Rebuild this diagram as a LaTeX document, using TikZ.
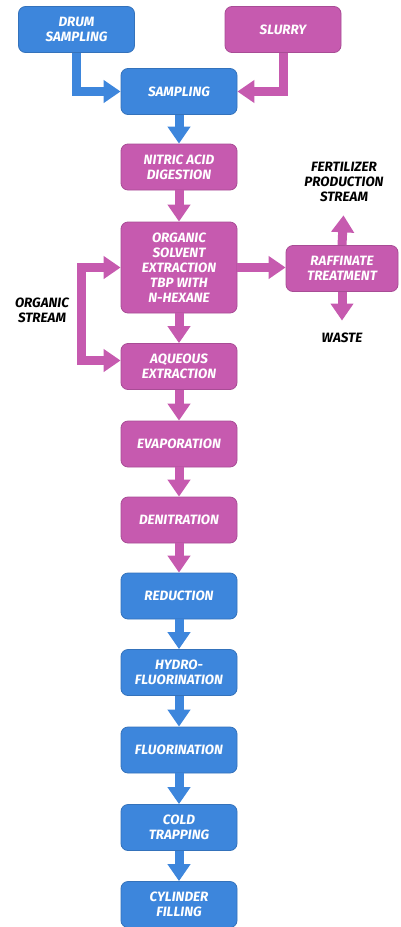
\documentclass[tikz,border=0pt]{standalone}
\usepackage{fontspec}
\setmainfont{Fira Sans}
\usetikzlibrary{arrows.meta}
\definecolor{procblue}{HTML}{3D86DC}
\definecolor{procpink}{HTML}{C65AAF}

\begin{document}
\begin{tikzpicture}[x=1pt,y=-1pt,
  box/.style={rectangle,rounded corners=7pt,draw=#1!85!black,fill=#1,line width=0.8pt,
    minimum width=116pt,minimum height=46pt,inner sep=2pt,align=center,text=white,
    font=\fontsize{13.5}{15}\selectfont\bfseries\itshape},
  flow/.style={draw=#1,line width=9pt,line join=miter,-{Triangle[width=22pt,length=17pt]}},
  twoway/.style={draw=#1,line width=9pt,line join=miter,
    {Triangle[width=22pt,length=17pt]}-{Triangle[width=22pt,length=17pt]}},
  sidetext/.style={align=center,text=black,font=\fontsize{13.5}{15}\selectfont\bfseries\itshape}
]
  \useasboundingbox (0,0) rectangle (400,927);
  % feed boxes
  \node[box=procblue] (drum) at (76.5,29.5) {DRUM\\SAMPLING};
  \node[box=procpink] (slurry) at (283,29.5) {SLURRY};
  % main column
  \node[box=procblue] (samp)   at (179,91.5)  {SAMPLING};
  \node[box=procpink] (nitric) at (179,167)   {NITRIC ACID\\DIGESTION};
  \node[box=procpink,minimum height=91pt] (org) at (179,267.5) {ORGANIC\\SOLVENT\\EXTRACTION\\TBP WITH\\N-HEXANE};
  \node[box=procpink] (aq)     at (179,366.5) {AQUEOUS\\EXTRACTION};
  \node[box=procpink] (evap)   at (179,444)   {EVAPORATION};
  \node[box=procpink] (denit)  at (179,520)   {DENITRATION};
  \node[box=procblue] (red)    at (179,596)   {REDUCTION};
  \node[box=procblue] (hydro)  at (179,672.5) {HYDRO-\\FLUORINATION};
  \node[box=procblue] (fluor)  at (179,750)   {FLUORINATION};
  \node[box=procblue] (cold)   at (179,827.5) {COLD\\TRAPPING};
  \node[box=procblue] (cyl)    at (179,904.5) {CYLINDER\\FILLING};
  % side branch
  \node[box=procpink,minimum width=112pt] (raff) at (342,268.5) {RAFFINATE\\TREATMENT};
  \node[sidetext] (fert)  at (344,182) {FERTILIZER\\PRODUCTION\\STREAM};
  \node[sidetext] (waste) at (342,338) {WASTE};
  \node[sidetext] (orgstream) at (42,310) {ORGANIC\\STREAM};

  % connectors
  \draw[flow=procblue] (drum.south) |- (samp.west);
  \draw[flow=procpink] (slurry.south) |- (samp.east);
  \foreach \a/\b/\c in {samp/nitric/procblue,nitric/org/procpink,org/aq/procpink,
      aq/evap/procpink,evap/denit/procpink,denit/red/procpink,red/hydro/procblue,
      hydro/fluor/procblue,fluor/cold/procblue,cold/cyl/procblue} {
    \draw[flow=\c] (\a.south) -- (\b.north);
  }
  \draw[flow=procpink] (org.east) -- (org.east -| raff.west);
  \draw[flow=procpink,shorten >=10pt] (raff.north) -- (fert.south);
  \draw[flow=procpink,shorten >=9pt] (raff.south) -- (waste.north);
  \draw[twoway=procpink] (org.west) -- ++(-39,0) |- ([yshift=6pt]aq.west);
\end{tikzpicture}
\end{document}
